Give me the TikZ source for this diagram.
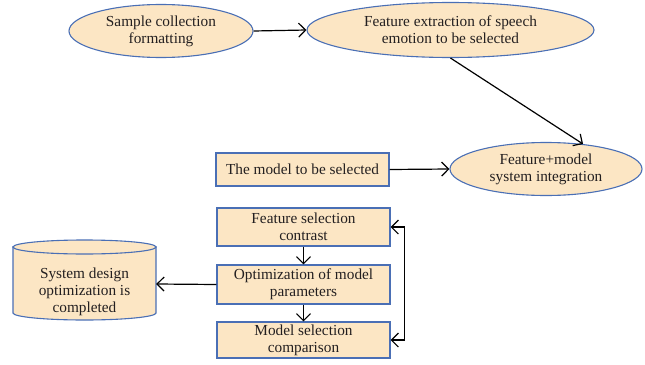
\documentclass[tikz,border=0pt]{standalone}
\usepackage{fontspec}
\setmainfont{Liberation Serif}
\usetikzlibrary{arrows.meta,shapes.geometric,calc}
\definecolor{boxfill}{HTML}{FCE6C4}
\definecolor{boxline}{HTML}{4A6FB5}
\definecolor{inkc}{HTML}{231F20}
\begin{document}
\begin{tikzpicture}[x=1pt,y=-1pt,
  font=\fontsize{15.3}{17.2}\selectfont,
  oval/.style={ellipse,draw=boxline,fill=boxfill,line width=1.1pt,inner sep=0pt,align=center,text=inkc},
  stepbox/.style={rectangle,draw=boxline,fill=boxfill,line width=1.1pt,inner sep=0pt,align=center,text=inkc,minimum width=173pt},
  tip/.style={Straight Barb[length=7pt,width=14pt]},
  conn/.style={line width=1.2pt,-{Straight Barb[length=7pt,width=14pt]}},
  conn2/.style={line width=1.2pt,{Straight Barb[length=7pt,width=14pt]}-{Straight Barb[length=7pt,width=14pt]}}]
\useasboundingbox (0,0) rectangle (645,364);

% top row: ellipses
\node[oval,minimum width=184pt,minimum height=53pt] (e1) at (161,31) {Sample collection\\formatting};
\node[oval,minimum width=287pt,minimum height=55pt] (e2) at (450.5,30) {Feature extraction of speech\\emotion to be selected};
\node[oval,minimum width=192pt,minimum height=53pt] (e3) at (546,169) {Feature+model\\system integration};

% model box
\node[stepbox,minimum height=33pt] (m) at (302.5,169.5) {The model to be selected};

% stacked boxes
\node[stepbox,minimum height=38pt] (b1) at (303.5,227) {Feature selection\\contrast};
\node[stepbox,minimum height=39pt] (b2) at (303.5,284.5) {Optimization of model\\parameters};
\node[stepbox,minimum height=36pt] (b3) at (303.5,340) {Model selection\\comparison};

% cylinder: outline drawn by hand, empty node as its frame
\node[inner sep=0pt,minimum width=143pt,minimum height=80pt] (cyl) at (84.5,284) {};
\begin{scope}[line width=1.1pt]
  \filldraw[draw=boxline,fill=boxfill] (13,247) -- (13,313)
    arc[start angle=180,end angle=0,x radius=71.5,y radius=7] -- (156,247) -- cycle;
  \filldraw[draw=boxline,fill=boxfill] (84.5,247) ellipse[x radius=71.5,y radius=7];
\end{scope}
\node[inner sep=0pt,align=center,text=inkc] (cyltext) at (84.5,292) {System design\\optimization is\\completed};

% connectors
\draw[conn] (e1.east) -- (e2.west);
\draw[conn] (e2.south) -- (e3.34);
\draw[conn] (m.east) -- (e3.west);
\draw[conn] (b1.south) -- (b2.north);
\draw[conn] (b2.south) -- (b3.north);
\draw[conn] (b2.west) -- (cyl.east);
\draw[conn2] (b1.east) -- ++(14,0) |- (b3.east);
\end{tikzpicture}
\end{document}
